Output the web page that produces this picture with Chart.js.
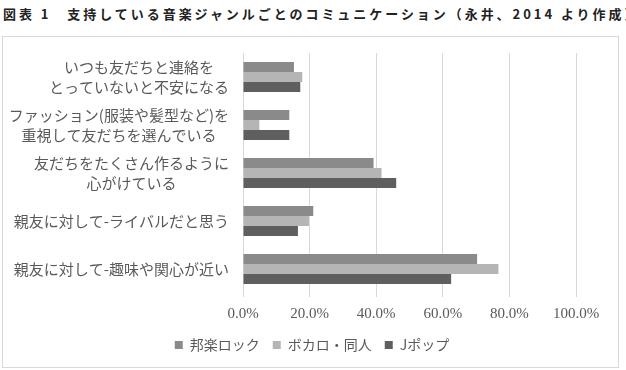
<!DOCTYPE html>
<html>
<head>
<meta charset="utf-8">
<script src="https://cdn.jsdelivr.net/npm/chart.js@4/dist/chart.umd.min.js"></script>
<style>
  html, body { margin: 0; padding: 0; background: #fff; }
  #wrap { position: relative; width: 626px; height: 370px; overflow: hidden; }
  #title {
    position: absolute; left: 3px; top: 4px; white-space: nowrap;
    font: bold 13px "Noto Sans CJK JP", sans-serif; letter-spacing: 2.95px; color: #222;
  }
  canvas { position: absolute; left: 0; top: 0; }
</style>
</head>
<body>
<div id="wrap">
  <div id="title">図表 1　支持している音楽ジャンルごとのコミュニケーション（永井、2014 より作成）</div>
  <canvas id="myChart" width="626" height="370"></canvas>
</div>
<script>
// categories, top to bottom
const categories = [
  ['いつも友だちと連絡を', 'とっていないと不安になる'],
  ['ファッション(服装や髪型など)を', '重視して友だちを選んでいる'],
  ['友だちをたくさん作るように', '心がけている'],
  ['親友に対して-ライバルだと思う'],
  ['親友に対して-趣味や関心が近い']
];
const seriesNames = ['邦楽ロック', 'ボカロ・同人', 'Jポップ'];
const rockValues = [0.153, 0.139, 0.392, 0.211, 0.703];
const vocaloValues = [0.178, 0.049, 0.416, 0.198, 0.767];
const jpopValues = [0.172, 0.139, 0.460, 0.165, 0.625];
const xTicks = [0, 0.2, 0.4, 0.6, 0.8, 1.0];

const textGray = '#595959';
const labelFont = '15px "Noto Sans CJK JP", sans-serif';

// category labels: block right-aligned, lines centered inside the block
const yLabelPlugin = {
  id: 'yLabels',
  afterLayout(chart) {
    // centre the legend on the whole frame, not only the plot width
    const lg = chart.legend;
    lg.left = 2;
    lg.right = 622;
    lg.top -= 6;
    lg.bottom -= 6;
  },
  afterDraw(chart) {
    const ctx = chart.ctx;
    const yScale = chart.scales.y;
    ctx.save();
    ctx.font = labelFont;
    ctx.fillStyle = textGray;
    ctx.textAlign = 'center';
    ctx.textBaseline = 'middle';
    categories.forEach((lines, i) => {
      const y = yScale.getPixelForValue(i);
      const maxW = Math.max(...lines.map(l => ctx.measureText(l).width));
      const cx = 229 - maxW / 2;
      lines.forEach((l, j) => {
        ctx.fillText(l, cx, y + (j - (lines.length - 1) / 2) * 20);
      });
    });
    ctx.restore();
  }
};

const frame = {
  id: 'frame',
  beforeDraw(chart) {
    const ctx = chart.ctx;
    ctx.save();
    ctx.strokeStyle = '#d9d9d9';
    ctx.lineWidth = 1;
    ctx.strokeRect(2.5, 36.5, 616, 331);
    ctx.restore();
  }
};

new Chart(document.getElementById('myChart'), {
  type: 'bar',
  data: {
    labels: categories,
    datasets: [
      { label: seriesNames[0], data: rockValues, backgroundColor: '#8a8a8a' },
      { label: seriesNames[1], data: vocaloValues, backgroundColor: '#b5b5b5' },
      { label: seriesNames[2], data: jpopValues, backgroundColor: '#5f5f5f' }
    ]
  },
  options: {
    indexAxis: 'y',
    responsive: false,
    animation: false,
    layout: { padding: { left: 243, right: 50, top: 53, bottom: 2 } },
    datasets: { bar: { categoryPercentage: 0.625, barPercentage: 1.0 } },
    scales: {
      x: {
        min: 0, max: 1,
        afterBuildTicks(scale) { scale.ticks = xTicks.map(v => ({ value: v })); },
        grid: { color: '#d9d9d9', tickLength: 4 },
        border: { display: false },
        ticks: {
          padding: 8,
          color: textGray,
          font: { family: '"Liberation Serif", "DejaVu Serif", serif', size: 15 },
          callback: v => (v * 100).toFixed(1) + '%'
        }
      },
      y: { display: false }
    },
    plugins: {
      legend: {
        position: 'bottom',
        labels: {
          color: textGray,
          boxWidth: 8, boxHeight: 8,
          padding: 13,
          font: { family: '"Noto Sans CJK JP", sans-serif', size: 14 }
        }
      },
      tooltip: { enabled: false }
    }
  },
  plugins: [frame, yLabelPlugin]
});
</script>
</body>
</html>
